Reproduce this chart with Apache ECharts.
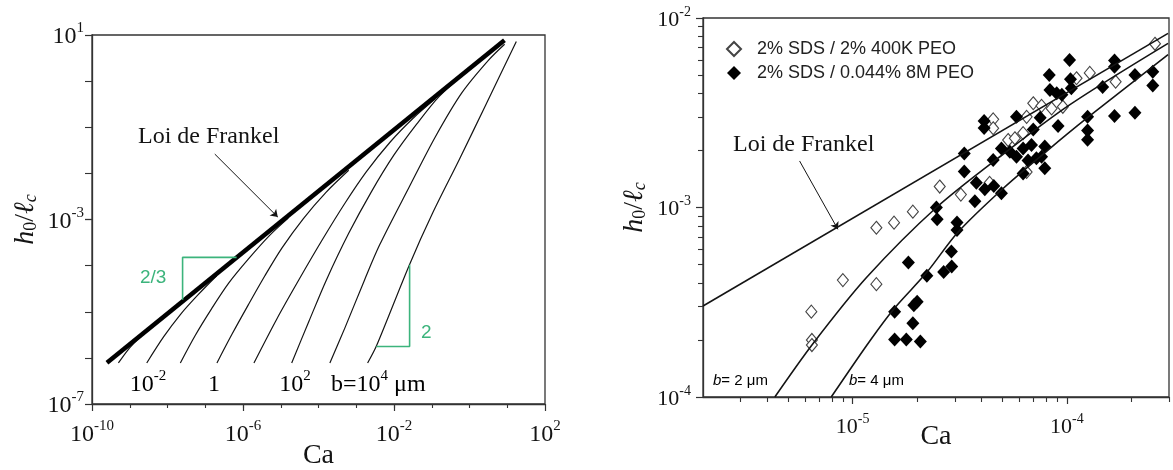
<!DOCTYPE html>
<html>
<head>
<meta charset="utf-8">
<title>Loi de Frankel</title>
<script src="https://cdn.jsdelivr.net/npm/echarts@6/dist/echarts.min.js"></script>
<style>
  html, body { margin: 0; padding: 0; background: #fff; }
  #chart { width: 1173px; height: 470px; }
</style>
</head>
<body>
<div id="chart"></div>
<script>
// ---------- left panel : h0/lc vs Ca, Frankel law + curves for b ----------
const frankelCa = [2.49e-10, 8.43];
const frankelH = [7.80e-7, 7.67];

const curveNames = ['b=1e-3', 'b=1e-2', 'b=1e-1', 'b=1', 'b=10', 'b=1e2', 'b=1e3', 'b=1e4'];
const curveCa = [
  [5.01e-10, 8.91e-10, 1.58e-9, 3.16e-9],
  [2.82e-9, 7.94e-9, 2.19e-8, 6.31e-8, 2.00e-7],
  [2.19e-8, 5.37e-8, 1.48e-7, 4.17e-7, 1.38e-6, 5.01e-6, 1.58e-5],
  [2.04e-7, 5.01e-7, 1.38e-6, 3.80e-6, 1.07e-5, 3.98e-5, 1.58e-4, 6.31e-4],
  [1.95e-6, 7.94e-6, 3.16e-5, 1.26e-4, 5.01e-4, 1.86e-3, 7.94e-3, 3.16e-2, 0.126],
  [1.95e-5, 5.62e-5, 1.62e-4, 6.31e-4, 2.51e-3, 1.00e-2, 3.98e-2, 0.158, 1.0],
  [2.00e-4, 5.01e-4, 1.66e-3, 4.17e-3, 2.51e-2, 0.126, 0.631, 3.16, 8.51],
  [2.00e-3, 3.39e-3, 2.57e-2, 0.107, 0.537, 2.75, 17.4]
];
const curveH = [
  [7.76e-7, 1.48e-6, 2.45e-6, 4.17e-6],
  [7.76e-7, 2.88e-6, 8.71e-6, 2.29e-5, 6.03e-5],
  [7.76e-7, 3.02e-6, 1.17e-5, 4.17e-5, 1.38e-4, 4.47e-4, 1.07e-3],
  [7.76e-7, 3.16e-6, 1.41e-5, 6.03e-5, 2.40e-4, 1.05e-3, 3.89e-3, 1.17e-2],
  [7.76e-7, 7.08e-6, 5.25e-5, 3.63e-4, 2.25e-3, 1.09e-2, 4.79e-2, 0.155, 0.419],
  [7.76e-7, 6.31e-6, 4.90e-5, 5.01e-4, 3.98e-3, 2.51e-2, 0.117, 0.468, 1.86],
  [7.76e-7, 4.47e-6, 4.90e-5, 2.82e-4, 5.01e-3, 6.31e-2, 0.562, 2.82, 6.31],
  [7.76e-7, 1.78e-6, 1.05e-4, 1.41e-3, 2.00e-2, 0.316, 7.24]
];

// slope guides (corners) and arrow, left panel
const slope23Ca = [2.51e-8, 2.51e-8, 6.76e-7];
const slope23H = [1.82e-5, 1.51e-4, 1.51e-4];
const slope2Ca = [3.40e-3, 2.59e-2, 2.59e-2];
const slope2H = [1.77e-6, 1.77e-6, 1.05e-4];
const arrowLeftCa = [1.79e-7, 8.34e-6];
const arrowLeftH = [2.62e-2, 1.13e-3];

// ---------- right panel : experiments ----------
const peo400kCa = [9.0e-6, 6.41e-6, 6.45e-6, 6.45e-6, 1.29e-5, 1.29e-5, 1.56e-5, 1.91e-5, 2.55e-5, 3.20e-5,
  4.53e-5, 4.53e-5, 4.36e-5, 5.32e-5, 5.72e-5, 6.25e-5, 6.49e-5, 6.97e-5, 7.62e-5, 8.49e-5,
  9.58e-5, 6.49e-5, 1.11e-4, 1.28e-4, 1.69e-4, 2.58e-4];
const peo400kH = [4.14e-4, 2.82e-4, 2.00e-4, 1.88e-4, 3.94e-4, 7.82e-4, 8.32e-4, 9.51e-4, 1.29e-3, 1.17e-3,
  2.92e-3, 2.62e-3, 1.35e-3, 2.27e-3, 2.32e-3, 2.47e-3, 3.01e-3, 3.55e-3, 3.44e-3, 3.33e-3,
  3.40e-3, 1.54e-3, 4.81e-3, 5.13e-3, 4.61e-3, 7.31e-3];

const peo8mCa = [1.57e-5, 1.78e-5, 2.07e-5, 1.91e-5, 1.57e-5, 1.93e-5, 2.00e-5, 2.22e-5, 1.82e-5, 2.66e-5,
  2.90e-5, 2.89e-5, 3.07e-5, 3.07e-5, 2.46e-5, 2.48e-5, 3.72e-5, 3.32e-5, 3.32e-5, 3.78e-5,
  4.14e-5, 4.56e-5, 4.95e-5, 4.53e-5, 4.95e-5, 5.42e-5, 4.11e-5, 4.11e-5, 5.82e-5, 5.82e-5,
  6.25e-5, 6.84e-5, 6.59e-5, 7.21e-5, 7.62e-5, 7.89e-5, 6.25e-5, 6.97e-5, 7.51e-5, 7.89e-5,
  8.28e-5, 8.34e-5, 8.97e-5, 9.48e-5, 9.10e-5, 1.03e-4, 1.04e-4, 1.05e-4, 1.25e-4, 1.25e-4,
  1.25e-4, 1.47e-4, 1.67e-4, 1.67e-4, 1.67e-4, 2.08e-4, 2.08e-4, 2.52e-4, 2.52e-4];
const peo8mH = [2.01e-4, 2.01e-4, 1.96e-4, 2.45e-4, 2.82e-4, 3.05e-4, 3.18e-4, 4.36e-4, 5.13e-4, 4.57e-4,
  4.89e-4, 5.85e-4, 7.60e-4, 8.34e-4, 1.00e-3, 8.67e-4, 1.08e-3, 1.55e-3, 1.93e-3, 1.35e-3,
  1.25e-3, 1.30e-3, 1.19e-3, 1.78e-3, 2.05e-3, 1.97e-3, 2.86e-3, 2.63e-3, 3.01e-3, 1.85e-3,
  2.05e-3, 2.14e-3, 1.77e-3, 1.82e-3, 1.85e-3, 1.61e-3, 1.51e-3, 2.58e-3, 2.98e-3, 2.10e-3,
  5.00e-3, 4.17e-3, 4.01e-3, 3.93e-3, 2.69e-3, 6.00e-3, 4.75e-3, 4.26e-3, 3.01e-3, 2.55e-3,
  2.28e-3, 4.33e-3, 5.97e-3, 5.53e-3, 3.04e-3, 5.00e-3, 3.16e-3, 5.21e-3, 4.41e-3];

const frankelRightCa = [2.0e-6, 2.97e-4];
const frankelRightH = [3.02e-4, 8.30e-3];
const b2Ca = [4.33e-6, 6.52e-6, 1.16e-5, 2.46e-5, 5.04e-5, 1.03e-4, 2.97e-4];
const b2H = [1.0e-4, 1.91e-4, 4.27e-4, 1.00e-3, 1.91e-3, 3.48e-3, 7.35e-3];
const b4Ca = [7.94e-6, 1.20e-5, 1.57e-5, 2.21e-5, 3.10e-5, 5.04e-5, 8.04e-5, 1.24e-4, 2.97e-4];
const b4H = [1.0e-4, 1.97e-4, 2.95e-4, 4.52e-4, 7.40e-4, 1.26e-3, 1.98e-3, 2.96e-3, 6.40e-3];
const arrowRightCa = [5.65e-6, 8.53e-6];
const arrowRightH = [1.76e-3, 7.67e-4];

// axis ranges and tick labels (decade exponents)
const leftXRange = [1e-10, 1e2];
const leftYRange = [1e-7, 1e1];
const rightXRange = [2e-6, 3e-4];
const rightYRange = [1e-4, 1e-2];
const leftXLabels = [-10, -6, -2, 2];
const leftYLabels = [-7, -3, 1];
const rightXLabels = [-5, -4];
const rightYLabels = [-4, -3, -2];

const lg = Math.log10;
const pts = (xs, ys) => xs.map((x, i) => [lg(x), lg(ys[i])]);
const range = (a, b) => { const r = []; for (let i = a; i <= b; i++) r.push(i); return r; };
function logMinor(lo, hi) {
  const out = [];
  for (let d = Math.floor(lg(lo)); d <= Math.ceil(lg(hi)); d++) {
    for (let k = 2; k <= 9; k++) {
      const v = k * Math.pow(10, d);
      if (v > lo * 1.0001 && v < hi * 1.0001) out.push(lg(v));
    }
  }
  return out;
}

const SERIF = '"Liberation Serif", "DejaVu Serif", serif';
const SANS = '"Liberation Sans", Arial, sans-serif';
const INK = '#141414';
const AXIS = '#333';
const GREEN = '#3cb47c';

function powRich(size) {
  return {
    b: { fontFamily: SERIF, fontSize: size, lineHeight: size + 4, verticalAlign: 'bottom', color: INK },
    s: { fontFamily: SERIF, fontSize: Math.round(size * 0.62), lineHeight: Math.round(size * 0.62), verticalAlign: 'top', color: INK }
  };
}
const powLabel = v => '{b|10}{s|' + Math.round(v) + '}';

const nameRich = {
  i: { fontFamily: SERIF, fontStyle: 'italic', fontSize: 28, lineHeight: 28, verticalAlign: 'top', color: INK },
  n: { fontFamily: SERIF, fontSize: 28, lineHeight: 28, verticalAlign: 'top', color: INK },
  sub: { fontFamily: SERIF, fontSize: 18, lineHeight: 18, verticalAlign: 'bottom', padding: [14, 0, 0, 0], color: INK },
  subi: { fontFamily: SERIF, fontStyle: 'italic', fontSize: 18, lineHeight: 18, verticalAlign: 'bottom', padding: [14, 0, 0, 0], color: INK }
};
const hName = '{i|h}{sub|0}{n|/}{i|ℓ}{subi|c}';

function majorAxis(grid, pos, lo, hi, labels, size, margin, extra) {
  return Object.assign({
    type: 'value', gridIndex: grid, position: pos, min: lg(lo), max: lg(hi),
    nameMoveOverlap: false,
    axisLine: { show: true, onZero: false, lineStyle: { color: AXIS, width: 1.3 } },
    axisTick: { show: true, inside: false, length: 7, customValues: labels, lineStyle: { color: AXIS, width: 1.2 } },
    axisLabel: { show: true, customValues: labels, formatter: powLabel, rich: powRich(size), margin: margin,
      showMinLabel: true, showMaxLabel: true, hideOverlap: false },
    splitLine: { show: false }
  }, extra);
}
function minorAxis(grid, pos, lo, hi, ticks, len) {
  return {
    type: 'value', gridIndex: grid, position: pos, min: lg(lo), max: lg(hi),
    axisLine: { show: false, onZero: false },
    axisTick: { show: true, inside: false, length: len, customValues: ticks, lineStyle: { color: AXIS, width: 1.1 } },
    axisLabel: { show: false },
    splitLine: { show: false }
  };
}

const series = [];
// left panel
curveCa.forEach((xs, i) => {
  series.push({
    name: curveNames[i], type: 'line', xAxisIndex: 0, yAxisIndex: 0,
    data: pts(xs, curveH[i]), smooth: 0.3, showSymbol: false, silent: true,
    lineStyle: { color: INK, width: 1.2 }
  });
});
series.push({
  name: 'Frankel', type: 'line', xAxisIndex: 0, yAxisIndex: 0, data: pts(frankelCa, frankelH),
  showSymbol: false, silent: true, lineStyle: { color: '#000', width: 4.5 },
  markLine: {
    silent: true, symbol: ['none', 'arrow'], symbolSize: 7,
    lineStyle: { color: INK, width: 1, type: 'solid' }, label: { show: false },
    data: [[{ coord: [lg(arrowLeftCa[0]), lg(arrowLeftH[0])] }, { coord: [lg(arrowLeftCa[1]), lg(arrowLeftH[1])] }]]
  }
});
[[slope23Ca, slope23H], [slope2Ca, slope2H]].forEach(([xs, ys]) => {
  series.push({
    type: 'line', xAxisIndex: 0, yAxisIndex: 0, data: pts(xs, ys), showSymbol: false, silent: true,
    lineStyle: { color: GREEN, width: 1.6 }
  });
});
// right panel
series.push({
  name: 'Frankel exp', type: 'line', xAxisIndex: 2, yAxisIndex: 2, data: pts(frankelRightCa, frankelRightH),
  showSymbol: false, silent: true, lineStyle: { color: INK, width: 1.6 },
  markLine: {
    silent: true, symbol: ['none', 'arrow'], symbolSize: 7,
    lineStyle: { color: INK, width: 1, type: 'solid' }, label: { show: false },
    data: [[{ coord: [lg(arrowRightCa[0]), lg(arrowRightH[0])] }, { coord: [lg(arrowRightCa[1]), lg(arrowRightH[1])] }]]
  }
});
[[b2Ca, b2H], [b4Ca, b4H]].forEach(([xs, ys]) => {
  series.push({
    type: 'line', xAxisIndex: 2, yAxisIndex: 2, data: pts(xs, ys), smooth: 0.3, showSymbol: false, silent: true,
    lineStyle: { color: INK, width: 1.6 }
  });
});
series.push({
  name: '2% SDS / 2% 400K PEO', type: 'scatter', xAxisIndex: 2, yAxisIndex: 2,
  data: pts(peo400kCa, peo400kH), symbol: 'diamond', symbolSize: [11, 13], silent: true,
  itemStyle: { color: '#fff', borderColor: '#444', borderWidth: 1.1, opacity: 1 }
});
series.push({
  name: '2% SDS / 0.044% 8M PEO', type: 'scatter', xAxisIndex: 2, yAxisIndex: 2,
  data: pts(peo8mCa, peo8mH), symbol: 'diamond', symbolSize: [13, 14], silent: true,
  itemStyle: { color: '#000', opacity: 1 }
});

const option = {
  animation: false,
  backgroundColor: '#fff',
  grid: [
    { left: 92, top: 35, width: 453, height: 369, show: true, borderColor: AXIS, borderWidth: 1.3,
      outerBoundsMode: 'none', containLabel: false },
    { left: 703, top: 18, width: 466, height: 379, show: true, borderColor: AXIS, borderWidth: 1.3,
      outerBoundsMode: 'none', containLabel: false }
  ],
  xAxis: [
    majorAxis(0, 'bottom', leftXRange[0], leftXRange[1], leftXLabels, 24, 15, {
      name: 'Ca', nameLocation: 'middle', nameGap: 38,
      nameTextStyle: { fontFamily: SERIF, fontSize: 28, color: INK }
    }),
    minorAxis(0, 'bottom', leftXRange[0], leftXRange[1], range(-9, 1), 4),
    majorAxis(1, 'bottom', rightXRange[0], rightXRange[1], rightXLabels, 22, 15, {
      name: 'Ca', nameLocation: 'middle', nameGap: 26,
      nameTextStyle: { fontFamily: SERIF, fontSize: 28, color: INK }
    }),
    minorAxis(1, 'bottom', rightXRange[0], rightXRange[1], logMinor(rightXRange[0], rightXRange[1]), 5)
  ],
  yAxis: [
    majorAxis(0, 'left', leftYRange[0], leftYRange[1], leftYLabels, 24, 8, {
      name: hName, nameLocation: 'middle', nameGap: 52, nameRotate: 90,
      nameTextStyle: { rich: nameRich }
    }),
    minorAxis(0, 'left', leftYRange[0], leftYRange[1], range(-6, 0), 7),
    majorAxis(1, 'left', rightYRange[0], rightYRange[1], rightYLabels, 22, 12, {
      name: hName, nameLocation: 'middle', nameGap: 54, nameRotate: 90,
      nameTextStyle: { rich: nameRich }
    }),
    minorAxis(1, 'left', rightYRange[0], rightYRange[1], logMinor(rightYRange[0], rightYRange[1]), 5)
  ],
  legend: {
    orient: 'vertical', left: 721, top: 35, itemWidth: 14, itemHeight: 14, itemGap: 6,
    data: ['2% SDS / 2% 400K PEO', '2% SDS / 0.044% 8M PEO'],
    textStyle: { fontFamily: SANS, fontSize: 18, color: '#222', padding: [0, 0, 0, 11] }
  },
  graphic: [
    { type: 'text', x: 138, y: 137, style: { text: 'Loi de Frankel', font: '24px ' + SERIF, fill: INK, verticalAlign: 'middle' } },
    { type: 'text', x: 140, y: 278, style: { text: '2/3', font: '19px ' + SANS, fill: GREEN, verticalAlign: 'middle' } },
    { type: 'text', x: 421, y: 333, style: { text: '2', font: '19px ' + SANS, fill: GREEN, verticalAlign: 'middle' } },
    { type: 'text', x: 148, y: 383, style: { text: '{b|10}{s|-2}', rich: powRich(24), align: 'center', verticalAlign: 'middle' } },
    { type: 'text', x: 214, y: 383, style: { text: '{b|1}', rich: powRich(24), align: 'center', verticalAlign: 'middle' } },
    { type: 'text', x: 295, y: 383, style: { text: '{b|10}{s|2}', rich: powRich(24), align: 'center', verticalAlign: 'middle' } },
    { type: 'text', x: 331, y: 383, style: { text: '{b|b=10}{s|4}{b| μm}', rich: powRich(24), align: 'left', verticalAlign: 'middle' } },
    { type: 'text', x: 733, y: 145, style: { text: 'Loi de Frankel', font: '24px ' + SERIF, fill: INK, verticalAlign: 'middle' } },
    { type: 'text', x: 713, y: 381, style: {
      text: '{i|b}{t|= 2 μm}', verticalAlign: 'middle',
      rich: { i: { fontFamily: SANS, fontStyle: 'italic', fontSize: 15, color: INK }, t: { fontFamily: SANS, fontSize: 15, color: INK } }
    } },
    { type: 'text', x: 849, y: 381, style: {
      text: '{i|b}{t|= 4 μm}', verticalAlign: 'middle',
      rich: { i: { fontFamily: SANS, fontStyle: 'italic', fontSize: 15, color: INK }, t: { fontFamily: SANS, fontSize: 15, color: INK } }
    } }
  ],
  series: series
};

const chart = echarts.init(document.getElementById('chart'));
chart.setOption(option);
</script>
</body>
</html>
